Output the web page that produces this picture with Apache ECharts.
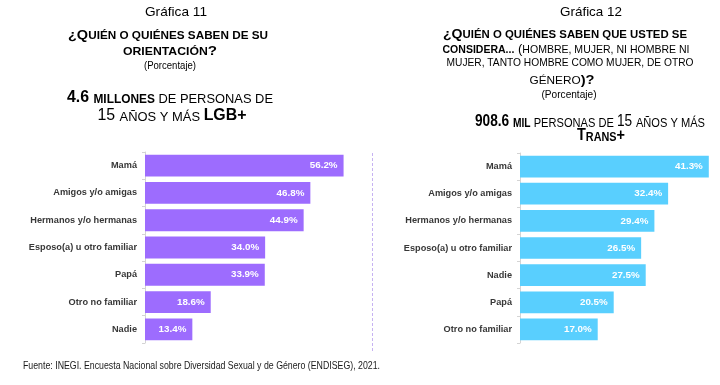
<!DOCTYPE html>
<html><head><meta charset="utf-8">
<script src="https://cdn.jsdelivr.net/npm/echarts@6/dist/echarts.min.js"></script>
<style>html,body{margin:0;padding:0;background:#fff}#c{width:720px;height:385px}</style>
</head><body><div id="c"></div>
<script>
// ---- data ----
const catsLGB = ['Mamá', 'Amigos y/o amigas', 'Hermanos y/o hermanas', 'Esposo(a) u otro familiar', 'Papá', 'Otro no familiar', 'Nadie'];
const valsLGB = [56.2, 46.8, 44.9, 34.0, 33.9, 18.6, 13.4];
const catsTrans = ['Mamá', 'Amigos y/o amigas', 'Hermanos y/o hermanas', 'Esposo(a) u otro familiar', 'Nadie', 'Papá', 'Otro no familiar'];
const valsTrans = [41.3, 32.4, 29.4, 26.5, 27.5, 20.5, 17.0];

const FF = "'Liberation Sans', Arial, sans-serif";
const richStyles = {
  T: {fontSize: 13.5, fontWeight: 'normal'},
  B: {fontSize: 13, fontWeight: 'bold'},
  b: {fontSize: 10.5, fontWeight: 'bold'},
  R: {fontSize: 13, fontWeight: 'normal'},
  r: {fontSize: 10.5, fontWeight: 'normal'},
  p: {fontSize: 11, fontWeight: 'normal'},
  H: {fontSize: 16, fontWeight: 'bold'},
  h: {fontSize: 12, fontWeight: 'bold'},
  N: {fontSize: 16, fontWeight: 'normal'},
  n: {fontSize: 13, fontWeight: 'normal'}
};
const rich = {};
Object.keys(richStyles).forEach(k => {
  rich[k] = Object.assign({fontFamily: FF, fill: '#000', verticalAlign: 'bottom'}, richStyles[k]);
});
const mctx = document.createElement('canvas').getContext('2d');
function measure(tokens) {
  let w = 0;
  tokens.forEach(([k, t]) => {
    const s = richStyles[k];
    mctx.font = s.fontWeight + ' ' + s.fontSize + 'px ' + FF;
    w += mctx.measureText(t).width;
  });
  return w;
}
function line(tokens, cx, cy, targetW) {
  const w = measure(tokens);
  return {
    type: 'text', x: cx, y: cy, scaleX: targetW / w, silent: true,
    style: {
      text: tokens.map(([k, t]) => '{' + k + '|' + t + '}').join(''),
      rich: rich, align: 'center', verticalAlign: 'middle', fill: '#000', font: '12px ' + FF
    }
  };
}

const titleLines = [
  line([['T', 'Gráfica 11']], 176, 12, 62),
  line([['B', '¿Q'], ['b', 'UIÉN O QUIÉNES SABEN DE SU']], 168, 35, 200),
  line([['b', 'ORIENTACIÓN'], ['B', '?']], 170, 51, 94),
  line([['p', '(Porcentaje)']], 170, 66, 52),
  line([['H', '4.6 '], ['h', 'MILLONES'], ['n', ' DE PERSONAS DE']], 170, 98, 206),
  line([['N', '15 '], ['n', 'AÑOS Y MÁS '], ['H', 'LGB+']], 172, 116, 149),

  line([['T', 'Gráfica 12']], 591, 12, 62),
  line([['B', '¿Q'], ['b', 'UIÉN O QUIÉNES SABEN QUE USTED SE']], 565, 34, 244),
  line([['b', 'CONSIDERA...'], ['R', ' ('], ['r', 'HOMBRE, MUJER, NI HOMBRE NI']], 566, 49, 247),
  line([['r', 'MUJER, TANTO HOMBRE COMO MUJER, DE OTRO']], 570, 63, 247),
  line([['r', 'GÉNERO'], ['B', ')?']], 562, 80, 65),
  line([['p', '(Porcentaje)']], 569, 95, 55),
  line([['H', '908.6 '], ['h', 'MIL'], ['n', ' PERSONAS DE '], ['N', '15 '], ['n', 'AÑOS Y MÁS']], 590, 122, 230),
  line([['H', 'T'], ['h', 'RANS'], ['H', '+']], 601, 136, 48)
];

const foot = 'Fuente: INEGI. Encuesta Nacional sobre Diversidad Sexual y de Género (ENDISEG), 2021.';
mctx.font = 'normal 10.5px ' + FF;
const footW = mctx.measureText(foot).width;

const chart = echarts.init(document.getElementById('c'), null, {renderer: 'canvas'});

function yAxisCfg(cats, idx) {
  return {
    type: 'category', gridIndex: idx, data: cats, inverse: true,
    axisLine: {show: true, lineStyle: {color: '#d4d4d4', width: 1}},
    axisTick: {show: true, length: 3, lineStyle: {color: '#d4d4d4'}},
    axisLabel: {margin: 8, color: '#383838', fontSize: 9.2, fontWeight: 'bold', fontFamily: FF}
  };
}
function seriesCfg(vals, idx, color) {
  return {
    type: 'bar', xAxisIndex: idx, yAxisIndex: idx, data: vals, barWidth: '80%',
    itemStyle: {color: color},
    label: {show: true, position: 'insideRight', distance: 6, color: '#fff', fontSize: 9.8, fontWeight: 'bold', fontFamily: FF,
      formatter: p => p.value.toFixed(1) + '%'},
    silent: true, animation: false
  };
}

chart.setOption({
  animation: false,
  backgroundColor: '#fff',
  grid: [
    {left: 145, top: 152, width: 212, height: 191},
    {left: 520, top: 153, width: 192, height: 190}
  ],
  xAxis: [
    {type: 'value', gridIndex: 0, min: 0, max: 60, show: false},
    {type: 'value', gridIndex: 1, min: 0, max: 42, show: false}
  ],
  yAxis: [yAxisCfg(catsLGB, 0), yAxisCfg(catsTrans, 1)],
  series: [seriesCfg(valsLGB, 0, '#9d6cfe'), seriesCfg(valsTrans, 1, '#59cffe')],
  graphic: titleLines.concat([
    {type: 'line', silent: true, shape: {x1: 372.5, y1: 153, x2: 372.5, y2: 352},
      style: {stroke: '#c6b2f2', lineWidth: 1, lineDash: [3, 2]}},
    {type: 'text', x: 23, y: 366, scaleX: 357 / footW, silent: true,
      style: {text: foot, font: 'normal 10.5px ' + FF, fill: '#1a1a1a', align: 'left', verticalAlign: 'middle'}}
  ])
});
</script>
</body></html>
